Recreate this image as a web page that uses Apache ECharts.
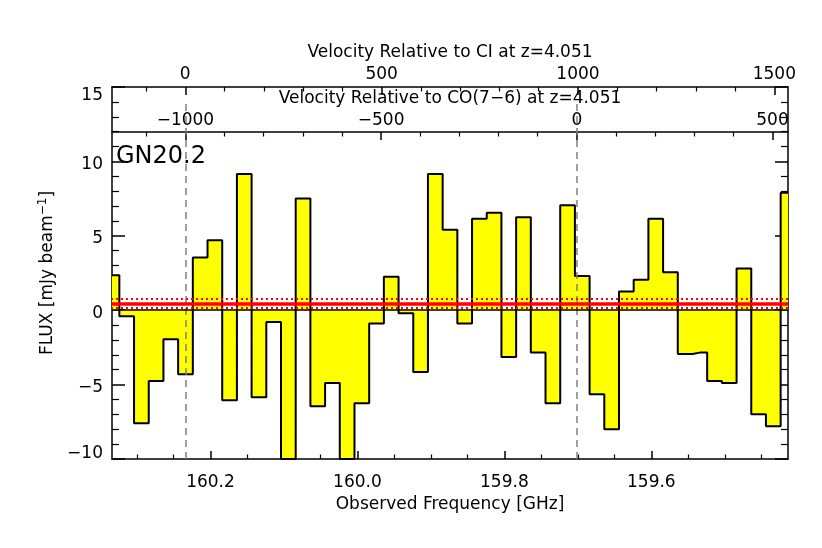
<!DOCTYPE html>
<html>
<head>
<meta charset="utf-8">
<script src="https://cdn.jsdelivr.net/npm/echarts@6/dist/echarts.min.js"></script>
<style>
html,body{margin:0;padding:0;background:#fff;}
#chart{width:822px;height:548px;}
</style>
</head>
<body>
<div id="chart"></div>
<script>
// channel centres (GHz)
var freqs = [160.334, 160.314, 160.294, 160.274, 160.254, 160.234, 160.214, 160.194, 160.174, 160.154,
	160.134, 160.114, 160.094, 160.074, 160.054, 160.034, 160.014, 159.994, 159.974, 159.954,
	159.934, 159.914, 159.894, 159.874, 159.854, 159.834, 159.814, 159.794, 159.774, 159.754,
	159.734, 159.714, 159.694, 159.674, 159.654, 159.634, 159.614, 159.594, 159.574, 159.554,
	159.534, 159.514, 159.494, 159.474, 159.454, 159.434, 159.414];
// flux per channel (mJy/beam)
var flux = [2.35, -0.4, -7.6, -4.75, -1.95, -4.3, 3.55, 4.7, -6.05, 9.15,
	-5.85, -0.8, -10.0, 7.5, -6.45, -4.9, -10.0, -6.25, -0.9, 2.25,
	-0.2, -4.15, 9.15, 5.4, -0.9, 6.15, 6.55, -3.15, 6.25, -2.85,
	-6.25, 7.05, 2.3, -5.65, -8.0, 1.25, 2.05, 6.15, 2.55, -2.95,
	-2.85, -4.75, -4.9, 2.8, -7.0, -7.8, 7.9];
// mean level and +-1 sigma
var fluxMean = 0.46;
var fluxRms = 0.29;

// axis ticks
var freqTicks = [160.2, 160.0, 159.8, 159.6];
var freqMinor = [160.3, 160.25, 160.15, 160.1, 160.05, 159.95, 159.9, 159.85, 159.75, 159.7, 159.65, 159.55, 159.5, 159.45];
var ciTicks = [0, 500, 1000, 1500];
var ciMinor = [-100, 100, 200, 300, 400, 600, 700, 800, 900, 1100, 1200, 1300, 1400];
var coTicks = [-1000, -500, 0, 500];
var coMinor = [-1100, -900, -800, -700, -600, -400, -300, -200, -100, 100, 200, 300, 400];

var fMin = 159.414, fMax = 160.334;
var cLight = 299792.458;
var fCI = 809.3435 / 5.051;   // CI(2-1) at z=4.051
var fCO = 806.6518 / 5.051;   // CO(7-6) at z=4.051
function vel(f, f0){ return cLight * (f0 - f) / f0; }

var fontF = 'DejaVu Sans';
var black = '#000';
function minus(v){ return v < 0 ? '\u2212' + Math.abs(v) : '' + v; }

function tickAxis(opt){
	var ax = {
		type: 'value',
		splitLine: {show: false},
		axisLine: {show: false, onZero: false},
		axisLabel: {show: false},
		axisTick: {inside: true, length: 4.5, lineStyle: {color: black, width: 1.2}}
	};
	for (var k in opt) ax[k] = opt[k];
	return ax;
}

var myChart = echarts.init(document.getElementById('chart'));

var option = {
	animation: false,
	backgroundColor: '#fff',
	textStyle: {fontFamily: fontF},
	grid: {left: 112, right: 34, top: 87, bottom: 89},
	xAxis: [
		// 0: observed frequency
		{
			type: 'value', position: 'bottom', inverse: true, min: fMin, max: fMax,
			splitLine: {show: false},
			axisLine: {onZero: false, lineStyle: {color: black, width: 1.5}},
			axisTick: {inside: true, length: 8, customValues: freqTicks, lineStyle: {color: black, width: 1.5}},
			axisLabel: {customValues: freqTicks, fontSize: 17, color: black, margin: 15,
				formatter: function(v){ return v.toFixed(1); }},
			name: 'Observed Frequency [GHz]', nameLocation: 'middle', nameGap: 37,
			nameTextStyle: {fontSize: 17, color: black}
		},
		// 1: frequency minor ticks
		tickAxis({position: 'bottom', inverse: true, min: fMin, max: fMax,
			axisTick: {inside: true, length: 4.5, customValues: freqMinor, lineStyle: {color: black, width: 1.2}}}),
		// 2: velocity rel. to CI (top)
		{
			type: 'value', position: 'top', min: vel(fMax, fCI), max: vel(fMin, fCI),
			splitLine: {show: false},
			axisLine: {onZero: false, lineStyle: {color: black, width: 1.5}},
			axisTick: {inside: true, length: 8, customValues: ciTicks, lineStyle: {color: black, width: 1.5}},
			axisLabel: {customValues: ciTicks, fontSize: 17, color: black, margin: 4,
				formatter: minus},
			name: 'Velocity Relative to CI at z=4.051', nameLocation: 'middle', nameGap: 18,
			nameTextStyle: {fontSize: 17, color: black}
		},
		// 3: CI minor ticks
		tickAxis({position: 'top', min: vel(fMax, fCI), max: vel(fMin, fCI),
			axisTick: {inside: true, length: 4.5, customValues: ciMinor, lineStyle: {color: black, width: 1.2}}}),
		// 4: velocity rel. to CO(7-6), inside upper panel
		{
			type: 'value', position: 'top', offset: -45, min: vel(fMax, fCO), max: vel(fMin, fCO),
			splitLine: {show: false},
			axisLine: {onZero: false, lineStyle: {color: black, width: 1.5}},
			axisTick: {inside: true, length: 8, customValues: coTicks, lineStyle: {color: black, width: 1.5}},
			axisLabel: {customValues: coTicks, fontSize: 17, color: black, margin: 3,
				formatter: minus},
			name: 'Velocity Relative to CO(7\u22126) at z=4.051', nameLocation: 'middle', nameGap: 18,
			nameTextStyle: {fontSize: 17, color: black}
		},
		// 5: CO minor ticks
		tickAxis({position: 'top', offset: -45, min: vel(fMax, fCO), max: vel(fMin, fCO),
			axisTick: {inside: true, length: 4.5, customValues: coMinor, lineStyle: {color: black, width: 1.2}}})
	],
	yAxis: [
		{
			type: 'value', position: 'left', min: -10, max: 15, interval: 5,
			splitLine: {show: false},
			axisLine: {onZero: false, lineStyle: {color: black, width: 1.5}},
			axisTick: {inside: true, length: 13, lineStyle: {color: black, width: 1.5}},
			minorTick: {show: true, splitNumber: 5, length: 7, lineStyle: {color: black, width: 1.2}},
			axisLabel: {fontSize: 17, color: black, margin: 9,
				formatter: function(v){
					if (v == 15) return '{t|15}';
					if (v == -10) return '{b|' + minus(v) + '}';
					return '{n|' + minus(v) + '}';
				},
				rich: {
					t: {fontSize: 17, color: black, padding: [18, 0, 0, 0]},
					b: {fontSize: 17, color: black, padding: [0, 0, 10, 0]},
					n: {fontSize: 17, color: black, padding: [6, 0, 0, 0]}
				}
			},
			name: 'FLUX [mJy beam{sup|\u22121}]', nameLocation: 'middle', nameGap: 53,
			nameTextStyle: {fontSize: 17, color: black,
				rich: {sup: {fontSize: 12, color: black, padding: [0, 0, 10, 0]}}}
		},
		{
			type: 'value', position: 'right', min: -10, max: 15, interval: 5,
			splitLine: {show: false},
			axisLine: {onZero: false, lineStyle: {color: black, width: 1.5}},
			axisTick: {inside: true, length: 13, lineStyle: {color: black, width: 1.5}},
			minorTick: {show: true, splitNumber: 5, length: 7, lineStyle: {color: black, width: 1.2}},
			axisLabel: {show: false}
		}
	],
	graphic: [
		{type: 'text', left: 116, top: 145, z: 100,
			style: {text: 'GN20.2', font: '24px "DejaVu Sans"', fill: black}}
	],
	series: [
		// zero velocity of CI
		{
			type: 'line', xAxisIndex: 2, yAxisIndex: 0, data: [], z: 1,
			markLine: {silent: true, symbol: 'none', label: {show: false},
				lineStyle: {color: '#808080', width: 1.5, type: [7, 5]},
				data: [[{coord: [0, -10]}, {coord: [0, 14.2]}]]}
		},
		// zero velocity of CO(7-6)
		{
			type: 'line', xAxisIndex: 4, yAxisIndex: 0, data: [], z: 1,
			markLine: {silent: true, symbol: 'none', label: {show: false},
				lineStyle: {color: '#808080', width: 1.5, type: [7, 5]},
				data: [[{coord: [0, -10]}, {coord: [0, 14.2]}]]}
		},
		// spectrum
		{
			type: 'line', xAxisIndex: 0, yAxisIndex: 0, z: 3,
			step: 'middle', symbol: 'none',
			data: freqs.map(function(f, i){ return [f, flux[i]]; }),
			lineStyle: {color: black, width: 2},
			areaStyle: {color: '#ffff00', opacity: 1, origin: 'auto'},
			markLine: {silent: true, symbol: 'none', label: {show: false},
				data: [
					{yAxis: 0, lineStyle: {color: black, width: 1.5, type: 'solid'}},
					{yAxis: fluxMean + fluxRms, lineStyle: {color: '#ff0000', width: 1.8, type: [2, 3]}},
					{yAxis: fluxMean - fluxRms, lineStyle: {color: '#ff0000', width: 1.8, type: [2, 3]}},
					{yAxis: fluxMean, lineStyle: {color: '#ff0000', width: 3.5, type: 'solid'}}
				]}
		}
	]
};

myChart.setOption(option);
</script>
</body>
</html>
